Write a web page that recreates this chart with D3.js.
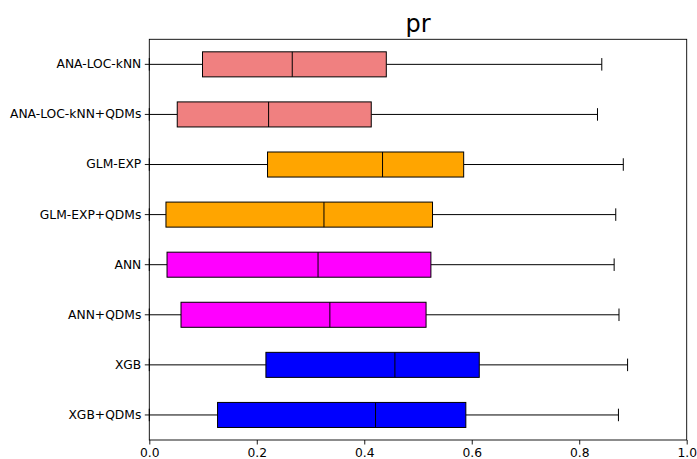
<!DOCTYPE html>
<html>
<head>
<meta charset="utf-8">
<script src="https://cdn.jsdelivr.net/npm/d3@7"></script>
<style>
  html, body { margin: 0; padding: 0; background: #fff; }
  svg { display: block; font-family: "DejaVu Sans", sans-serif; }
</style>
</head>
<body>
<svg id="chart" width="697" height="459"></svg>
<script>
// Box-plot summaries of "pr" per method (top to bottom)
const categories = ["ANA-LOC-kNN", "ANA-LOC-kNN+QDMs", "GLM-EXP", "GLM-EXP+QDMs", "ANN", "ANN+QDMs", "XGB", "XGB+QDMs"];
const whiskerLow  = [0, 0, 0, 0, 0, 0, 0, 0];
const q1          = [0.099, 0.052, 0.220, 0.031, 0.033, 0.059, 0.217, 0.127];
const median      = [0.266, 0.222, 0.434, 0.325, 0.314, 0.336, 0.457, 0.421];
const q3          = [0.441, 0.413, 0.585, 0.527, 0.524, 0.515, 0.614, 0.589];
const whiskerHigh = [0.842, 0.834, 0.882, 0.868, 0.865, 0.874, 0.890, 0.873];
const boxColors   = ["#F08080", "#F08080", "#FFA500", "#FFA500", "#FF00FF", "#FF00FF", "#0000FF", "#0000FF"];
const xTicks      = [0, 0.2, 0.4, 0.6, 0.8, 1.0];
const title       = "pr";

const rows = categories.map((c, i) => ({
  name: c, lo: whiskerLow[i], q1: q1[i], med: median[i], q3: q3[i], hi: whiskerHigh[i], color: boxColors[i]
}));

const W = 697, H = 459;
const margin = { top: 39.3, right: 10.3, bottom: 19, left: 149.3 };
const svg = d3.select("#chart");

const x = d3.scaleLinear().domain([0, 1]).range([margin.left, W - margin.right]);
const y = d3.scaleBand().domain(categories).range([margin.top, H - margin.bottom]).padding(0);
const boxH = y.bandwidth() * 0.5;
const capH = boxH * 0.5;

const g = svg.append("g");

const box = g.selectAll("g.box").data(rows).join("g").attr("class", "box")
  .attr("transform", d => `translate(0,${y(d.name) + y.bandwidth() / 2})`);

// whiskers
box.append("line")
  .attr("x1", d => x(d.lo)).attr("x2", d => x(d.q1))
  .attr("y1", 0).attr("y2", 0)
  .attr("stroke", "#000").attr("stroke-width", 1);
box.append("line")
  .attr("x1", d => x(d.q3)).attr("x2", d => x(d.hi))
  .attr("y1", 0).attr("y2", 0)
  .attr("stroke", "#000").attr("stroke-width", 1);
// caps
box.append("line")
  .attr("x1", d => x(d.lo)).attr("x2", d => x(d.lo))
  .attr("y1", -capH / 2).attr("y2", capH / 2)
  .attr("stroke", "#000").attr("stroke-width", 1);
box.append("line")
  .attr("x1", d => x(d.hi)).attr("x2", d => x(d.hi))
  .attr("y1", -capH / 2).attr("y2", capH / 2)
  .attr("stroke", "#000").attr("stroke-width", 1);
// boxes
box.append("rect")
  .attr("x", d => x(d.q1)).attr("width", d => x(d.q3) - x(d.q1))
  .attr("y", -boxH / 2).attr("height", boxH)
  .attr("fill", d => d.color)
  .attr("stroke", "#000").attr("stroke-width", 1);
// medians
box.append("line")
  .attr("x1", d => x(d.med)).attr("x2", d => x(d.med))
  .attr("y1", -boxH / 2).attr("y2", boxH / 2)
  .attr("stroke", "#000").attr("stroke-width", 1);

// axes
const xAxis = d3.axisBottom(x).tickValues(xTicks).tickFormat(d3.format(".1f")).tickSize(4.5).tickPadding(3.5);
const gx = svg.append("g").attr("transform", `translate(0,${H - margin.bottom})`).call(xAxis);
const yAxis = d3.axisLeft(y).tickSize(4.5).tickPadding(3.5);
const gy = svg.append("g").attr("transform", `translate(${margin.left},0)`).call(yAxis);
[gx, gy].forEach(a => {
  a.select(".domain").remove();
  a.selectAll(".tick line").attr("stroke", "#000").attr("stroke-width", 0.9);
  a.selectAll(".tick text").attr("fill", "#000").style("font-size", "12.3px").style("font-family", "'DejaVu Sans', sans-serif");
});

// frame
svg.append("rect")
  .attr("x", margin.left).attr("y", margin.top)
  .attr("width", W - margin.left - margin.right)
  .attr("height", H - margin.top - margin.bottom)
  .attr("fill", "none").attr("stroke", "#000").attr("stroke-width", 0.9);

// title
svg.append("text")
  .attr("x", (margin.left + W - margin.right) / 2)
  .attr("y", 31.5)
  .attr("text-anchor", "middle")
  .style("font-size", "24px")
  .attr("fill", "#000")
  .text(title);
</script>
</body>
</html>
